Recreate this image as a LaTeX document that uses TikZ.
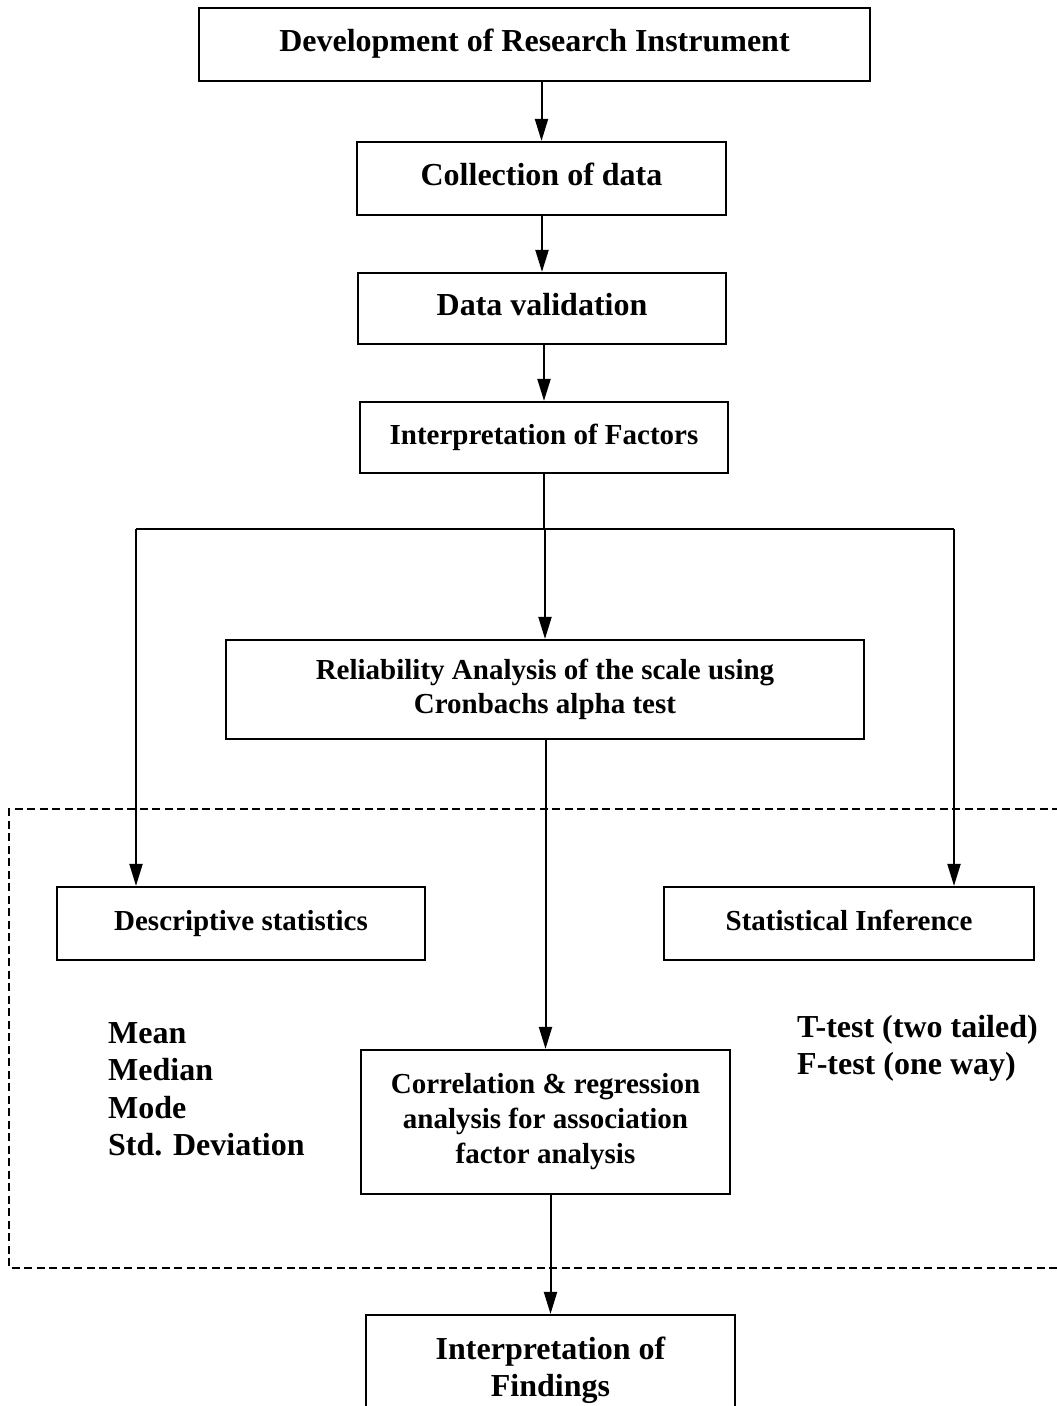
\documentclass[tikz,border=0pt]{standalone}
\usepackage{fontspec}
\setmainfont{Liberation Serif}
\usetikzlibrary{arrows.meta}

\tikzset{
  stage/.style={draw, line width=2.2pt, align=center, inner sep=4pt,
    font=\bfseries\fontsize{29}{34}\selectfont},
  bigstage/.style={stage, font=\bfseries\fontsize{32}{37}\selectfont},
  oneline/.style={text height=21pt, text depth=8pt},
  flow/.style={line width=2pt, -{Triangle[length=22pt,width=13pt]}},
  link/.style={line width=2pt},
  plain/.style={align=left, inner sep=0pt, font=\bfseries\fontsize{32}{37.5}\selectfont},
  frame/.style={line width=2.5pt, dash pattern=on 8pt off 4.5pt}
}

\begin{document}
\begin{tikzpicture}[x=1pt,y=-1pt]
  \clip (0,0) rectangle (1057,1406);

  \node[bigstage, oneline, minimum width=671pt, minimum height=73pt] (devel) at (534.5,44.5) {Development of Research Instrument};
  \node[bigstage, oneline, minimum width=369pt, minimum height=73pt] (collect) at (541.5,178.5) {Collection of data};
  \node[bigstage, oneline, minimum width=368pt, minimum height=71pt] (valid) at (542,308.5) {Data validation};
  \node[stage, oneline, minimum width=368pt, minimum height=71pt] (factors) at (544,437.5) {Interpretation of Factors};
  \node[stage, minimum width=638pt, minimum height=99pt] (reliab) at (545,689.5) {Reliability Analysis of the scale using\\Cronbachs alpha test};
  \node[stage, oneline, minimum width=368pt, minimum height=73pt] (descr) at (241,923.5) {Descriptive statistics};
  \node[stage, oneline, minimum width=370pt, minimum height=73pt] (infer) at (849,923.5) {Statistical Inference};
  \node[stage, minimum width=369pt, minimum height=144pt, font=\bfseries\fontsize{29}{35}\selectfont] (corr) at (545.5,1122) {Correlation \& regression\\analysis for association\\factor analysis};
  \node[bigstage, minimum width=369pt, minimum height=110pt] (findings) at (550.5,1370) {Interpretation of\\Findings};

  \node[plain, anchor=north west] (measures) at (108,1022) {Mean\\Median\\Mode\\Std. Deviation};
  \node[plain, anchor=north west] (tests) at (797,1015) {T-test (two tailed)\\F-test (one way)};

  \coordinate (forkL) at (136,529);
  \coordinate (forkR) at (954,529);
  \coordinate (frameTL) at (9,809);
  \coordinate (frameBL) at (9,1268);

  \draw[frame] (1060,809) -- (frameTL) -- (frameBL) -- (1060,1268);

  \draw[flow] (collect.north |- devel.south) -- (collect.north);
  \draw[flow] (valid.north |- collect.south) -- (valid.north);
  \draw[flow] (factors.north |- valid.south) -- (factors.north);
  \draw[link] (factors.south) -- (factors.south |- forkL);
  \draw[link] (forkL) -- (forkR);
  \draw[flow] (reliab.north |- forkL) -- (reliab.north);
  \draw[flow] (forkL) -- (forkL |- descr.north);
  \draw[flow] (forkR) -- (forkR |- infer.north);
  \draw[flow] (corr.north |- reliab.south) -- (corr.north);
  \draw[flow] (findings.north |- corr.south) -- (findings.north);
\end{tikzpicture}
\end{document}
